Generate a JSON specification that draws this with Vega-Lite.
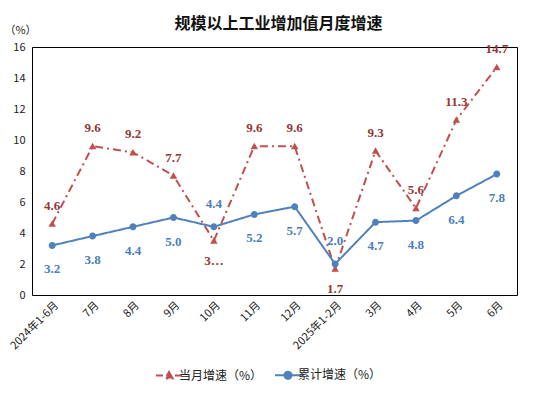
{
  "$schema": "https://vega.github.io/schema/vega-lite/v6.json",
  "autosize": "none",
  "width": 485,
  "height": 248,
  "padding": {"left": 32, "top": 47, "right": 27, "bottom": 101},
  "background": "white",
  "title": {"text": "规模以上工业增加值月度增速", "font": "Noto Sans CJK SC", "fontSize": 16, "fontWeight": "bold", "color": "#111", "offset": -8, "anchor": "middle", "dx": 4},
  "config": {
    "view": {"stroke": "#000", "strokeWidth": 1},
    "axis": {"grid": false, "ticks": false, "domain": false, "labelFont": "Noto Sans CJK SC", "labelFontSize": 11, "labelColor": "#222"}
  },
  "data": {"values": [
    {"m": "2024年1-6月", "s": "当月增速（%）", "v": 4.6},
    {"m": "7月", "s": "当月增速（%）", "v": 9.6},
    {"m": "8月", "s": "当月增速（%）", "v": 9.2},
    {"m": "9月", "s": "当月增速（%）", "v": 7.7},
    {"m": "10月", "s": "当月增速（%）", "v": 3.5},
    {"m": "11月", "s": "当月增速（%）", "v": 9.6},
    {"m": "12月", "s": "当月增速（%）", "v": 9.6},
    {"m": "2025年1-2月", "s": "当月增速（%）", "v": 1.7},
    {"m": "3月", "s": "当月增速（%）", "v": 9.3},
    {"m": "4月", "s": "当月增速（%）", "v": 5.6},
    {"m": "5月", "s": "当月增速（%）", "v": 11.3},
    {"m": "6月", "s": "当月增速（%）", "v": 14.7},
    {"m": "2024年1-6月", "s": "累计增速（%）", "v": 3.2},
    {"m": "7月", "s": "累计增速（%）", "v": 3.8},
    {"m": "8月", "s": "累计增速（%）", "v": 4.4},
    {"m": "9月", "s": "累计增速（%）", "v": 5.0},
    {"m": "10月", "s": "累计增速（%）", "v": 4.4},
    {"m": "11月", "s": "累计增速（%）", "v": 5.2},
    {"m": "12月", "s": "累计增速（%）", "v": 5.7},
    {"m": "2025年1-2月", "s": "累计增速（%）", "v": 2.0},
    {"m": "3月", "s": "累计增速（%）", "v": 4.7},
    {"m": "4月", "s": "累计增速（%）", "v": 4.8},
    {"m": "5月", "s": "累计增速（%）", "v": 6.4},
    {"m": "6月", "s": "累计增速（%）", "v": 7.8}
  ]},
  "encoding": {
    "x": {"field": "m", "type": "nominal", "sort": null,
      "scale": {"domain": ["2024年1-6月","7月","8月","9月","10月","11月","12月","2025年1-2月","3月","4月","5月","6月"], "paddingInner": 0, "paddingOuter": 0},
      "axis": {"title": null, "labelAngle": -45, "labelPadding": 4}},
    "y": {"field": "v", "type": "quantitative",
      "scale": {"domain": [0, 16], "nice": false},
      "axis": {"values": [0,2,4,6,8,10,12,14,16], "labelPadding": 7, "title": "（%）", "titleAngle": 0, "titleFont": "Noto Sans CJK SC", "titleFontSize": 11, "titleFontWeight": "normal", "titleColor": "#222", "titleX": -12, "titleY": -17, "titleAlign": "center", "titleBaseline": "middle"}}
  },
  "layer": [
    {
      "mark": {"type": "line", "strokeWidth": 2},
      "encoding": {
        "color": {"field": "s", "type": "nominal", "scale": {"domain": ["当月增速（%）", "累计增速（%）"], "range": ["#C0504D", "#4F81BD"]}},
        "strokeDash": {"field": "s", "type": "nominal", "scale": {"domain": ["当月增速（%）", "累计增速（%）"], "range": [[8, 4, 2, 4], [1, 0]]}, "legend": null}
      }
    },
    {
      "mark": {"type": "point", "filled": true, "opacity": 1, "size": 100},
      "encoding": {
        "color": {"field": "s", "type": "nominal", "legend": {
          "orient": "none", "legendX": 131, "legendY": 322, "direction": "horizontal", "title": null,
          "labelFont": "Noto Sans CJK SC", "labelFontSize": 12, "labelColor": "#222", "columnPadding": 8, "symbolSize": 100, "symbolStrokeWidth": 2,
          "encode": {"symbols": {"update": {"stroke": {"scale": "color", "field": "value"}, "strokeWidth": {"value": 2}}}}
        }},
        "shape": {"field": "s", "type": "nominal", "scale": {"domain": ["当月增速（%）", "累计增速（%）"], "range": ["M-2.6,0H-1.2M1.2,0H2.6M0,-0.7L0.75,0.6L-0.75,0.6Z", "M-2.6,0H2.6M0.7,0A0.7,0.7 0 1,1 -0.7,0A0.7,0.7 0 1,1 0.7,0Z"]}, "legend": {"title": null}}
      }
    },
    {
      "transform": [{"filter": "datum.s == '当月增速（%）' && datum.m != '10月' && datum.m != '2025年1-2月'"}],
      "mark": {"type": "text", "font": "Liberation Serif", "fontSize": 13, "fontWeight": "bold", "color": "#953735", "dy": -18, "baseline": "middle"},
      "encoding": {"text": {"field": "v", "type": "quantitative", "format": ".1f"}}
    },
    {
      "transform": [{"filter": "datum.s == '当月增速（%）' && datum.m == '2025年1-2月'"}],
      "mark": {"type": "text", "font": "Liberation Serif", "fontSize": 13, "fontWeight": "bold", "color": "#953735", "dy": 20, "baseline": "middle"},
      "encoding": {"text": {"field": "v", "type": "quantitative", "format": ".1f"}}
    },
    {
      "transform": [{"filter": "datum.s == '当月增速（%）' && datum.m == '10月'"}, {"calculate": "substring(format(datum.v, '.1f'), 0, 1) + '…'", "as": "lab"}],
      "mark": {"type": "text", "font": "Liberation Serif", "fontSize": 13, "fontWeight": "bold", "color": "#953735", "dy": 20, "baseline": "middle"},
      "encoding": {"text": {"field": "lab", "type": "nominal"}}
    },
    {
      "transform": [{"filter": "datum.s == '累计增速（%）' && datum.m != '10月' && datum.m != '2025年1-2月'"}],
      "mark": {"type": "text", "font": "Liberation Serif", "fontSize": 13, "fontWeight": "bold", "color": "#4A7EBB", "dy": 24, "baseline": "middle"},
      "encoding": {"text": {"field": "v", "type": "quantitative", "format": ".1f"}}
    },
    {
      "transform": [{"filter": "datum.s == '累计增速（%）' && (datum.m == '10月' || datum.m == '2025年1-2月')"}],
      "mark": {"type": "text", "font": "Liberation Serif", "fontSize": 13, "fontWeight": "bold", "color": "#4A7EBB", "dy": -23, "baseline": "middle"},
      "encoding": {"text": {"field": "v", "type": "quantitative", "format": ".1f"}}
    }
  ]
}
